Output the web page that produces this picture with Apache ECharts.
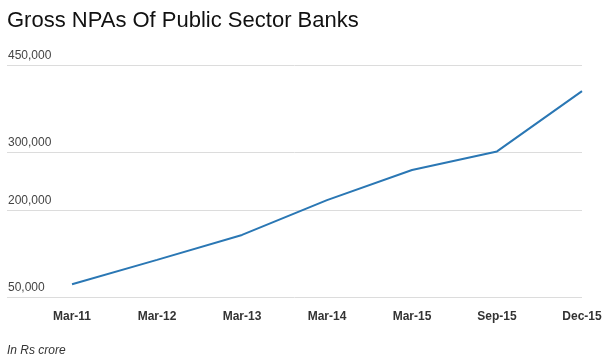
<!DOCTYPE html>
<html>
<head>
<meta charset="utf-8">
<script src="https://cdn.jsdelivr.net/npm/echarts@6/dist/echarts.min.js"></script>
<style>
  html, body { margin: 0; padding: 0; background: #fff; }
  #chart { width: 613px; height: 355px; }
</style>
</head>
<body>
<div id="chart"></div>
<script>
// periods on the x axis
const periods = ['Mar-11', 'Mar-12', 'Mar-13', 'Mar-14', 'Mar-15', 'Sep-15', 'Dec-15'];
// gross NPAs, Rs crore
const grossNpa = [72000, 114000, 157000, 217000, 269000, 301000, 405000];
// the y axis only marks these values
const yTicks = [50000, 200000, 300000, 450000];

const fontFamily = 'Arial, "Liberation Sans", sans-serif';
const myChart = echarts.init(document.getElementById('chart'));

myChart.setOption({
  animation: false,
  title: [
    {
      text: 'Gross NPAs Of Public Sector Banks',
      left: 2, top: 5,
      textStyle: { fontSize: 22, fontWeight: 'normal', color: '#111', fontFamily: fontFamily }
    },
    {
      text: 'In Rs crore',
      left: 2, top: 340,
      textStyle: { fontSize: 12, fontWeight: 'normal', fontStyle: 'italic', color: '#333', fontFamily: fontFamily }
    }
  ],
  grid: { left: 7, right: 31, top: 65, bottom: 58 },
  xAxis: {
    type: 'value',
    min: -0.765,   // first point sits in from the left edge of the gridlines
    max: 6,
    axisLine: { show: false },
    axisTick: { show: false },
    splitLine: { show: false },
    axisLabel: {
      customValues: periods.map((p, i) => i),
      formatter: (v) => periods[Math.round(v)],
      margin: 14,
      fontSize: 12,
      fontWeight: 'bold',
      color: '#333',
      fontFamily: fontFamily
    }
  },
  yAxis: {
    type: 'value',
    min: 50000,
    max: 450000,
    axisLine: { show: false },
    axisTick: { show: false, customValues: yTicks },
    splitLine: { show: true, lineStyle: { color: '#dcdcdc', width: 1 } },
    axisLabel: {
      customValues: yTicks,
      inside: true,
      margin: 1,
      verticalAlign: 'bottom',
      padding: [0, 0, 3, 0],
      fontSize: 12,
      color: '#444',
      fontFamily: fontFamily,
      formatter: (v) => v.toLocaleString('en-US')
    }
  },
  series: [
    {
      name: 'Gross NPAs',
      type: 'line',
      data: periods.map((p, i) => [i, grossNpa[i]]),
      symbol: 'none',
      lineStyle: { color: '#2a77b4', width: 2 },
      itemStyle: { color: '#2a77b4' }
    }
  ]
});
</script>
</body>
</html>
